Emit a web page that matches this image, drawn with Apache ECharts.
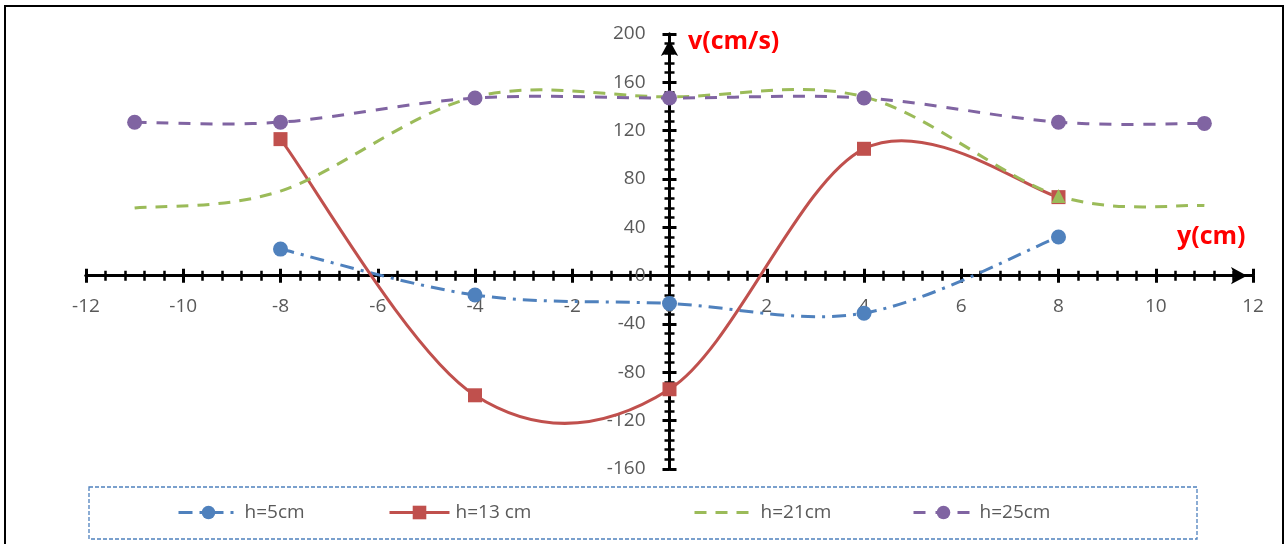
<!DOCTYPE html>
<html><head><meta charset="utf-8">
<script src="https://cdn.jsdelivr.net/npm/echarts@6/dist/echarts.min.js"></script>
<style>html,body{margin:0;padding:0;background:#fff}#c{width:1287px;height:544px}</style>
</head><body><div id="c"></div>
<script>
// Data
const seriesNames = ['h=5cm', 'h=13 cm', 'h=21cm', 'h=25cm'];
const xH5  = [-8, -4, 0, 4, 8];
const vH5  = [22, -16, -23, -31, 32];
const xH13 = [-8, -4, 0, 4, 8];
const vH13 = [113, -99, -94, 105, 65];
const xH21 = [-11, -8, -4, 0, 4, 8, 11];
const vH21 = [56, 70, 148, 148, 148, 66, 58];
const xH25 = [-11, -8, -4, 0, 4, 8, 11];
const vH25 = [127, 127, 147, 147, 147, 127, 126];
const xTicks = { min: -12, max: 12, interval: 2 };
const yTicks = { min: -160, max: 200, interval: 40 };

const colors = ['#4F81BD', '#C0504D', '#9BBB59', '#8064A2'];
const dashes = [[14, 7, 3, 7], 'solid', [12, 9], [12, 10]];
const symbols = ['circle', 'rect', 'none', 'circle'];
const sets = [[xH5, vH5], [xH13, vH13], [xH21, vH21], [xH25, vH25]];

function pairs(xs, ys) { return xs.map((x, i) => [x, ys[i]]); }

function smoothRender(k) {
  return function (params, api) {
    if (params.dataIndex !== 0) return null;
    const [xs, ys] = sets[k];
    const P = xs.map((x, i) => api.coord([x, ys[i]]));
    const n = P.length;
    let d = 'M' + P[0][0] + ' ' + P[0][1];
    for (let i = 0; i < n - 1; i++) {
      const p0 = P[Math.max(i - 1, 0)], p1 = P[i], p2 = P[i + 1], p3 = P[Math.min(i + 2, n - 1)];
      const c1 = [p1[0] + (p2[0] - p0[0]) / 6, p1[1] + (p2[1] - p0[1]) / 6];
      const c2 = [p2[0] - (p3[0] - p1[0]) / 6, p2[1] - (p3[1] - p1[1]) / 6];
      d += ' C' + c1[0] + ' ' + c1[1] + ' ' + c2[0] + ' ' + c2[1] + ' ' + p2[0] + ' ' + p2[1];
    }
    return {
      type: 'path',
      shape: { pathData: d },
      style: { fill: 'none', stroke: colors[k], lineWidth: 3,
               lineDash: dashes[k] === 'solid' ? null : dashes[k], lineCap: 'butt' }
    };
  };
}

const series = [];
sets.forEach(([xs, ys], k) => {
  series.push({
    type: 'custom', coordinateSystem: 'cartesian2d', xAxisIndex: 0, yAxisIndex: 0,
    silent: true, renderItem: smoothRender(k), data: [[xs[0], ys[0]]], z: 2
  });
  let data = pairs(xs, ys);
  if (k === 2) {
    data = data.map(p => p[0] === 8 ? { value: p, symbol: 'triangle', symbolSize: 14 } : { value: p });
  }
  series.push({
    name: seriesNames[k], type: 'line', xAxisIndex: 0, yAxisIndex: 0,
    data: data, symbol: symbols[k], symbolSize: k === 1 ? 14 : 15, showSymbol: true,
    itemStyle: { color: colors[k] },
    lineStyle: { color: colors[k], width: 3, type: dashes[k], opacity: 0 },
    z: 2
  });
});

const tickStyle = { show: true, length: 7, lineStyle: { color: '#000', width: 3 } };
const minorStyle = { show: true, splitNumber: 5, length: 5, lineStyle: { color: '#000', width: 2.5 } };
const labelStyle = { color: '#595959', fontSize: 19, fontFamily: 'Open Sans' };
const lineBase = { onZero: false, lineStyle: { color: '#000', width: 3 } };
const arrow = { symbol: ['none', 'arrow'], symbolSize: [13, 16], symbolOffset: [0, -6] };

function xAxisDef(inside, offset) {
  return {
    type: 'value', min: xTicks.min, max: xTicks.max, interval: xTicks.interval,
    position: 'bottom', offset: offset, splitLine: { show: false },
    minorTick: minorStyle,
    axisTick: Object.assign({}, tickStyle, { inside: inside }),
    axisLine: Object.assign({}, lineBase, inside ? {} : arrow),
    axisLabel: inside ? { show: false } : Object.assign({ margin: 21 }, labelStyle)
  };
}
function yAxisDef(inside, offset) {
  return {
    type: 'value', min: yTicks.min, max: yTicks.max, interval: yTicks.interval,
    position: 'left', offset: offset, splitLine: { show: false },
    minorTick: minorStyle,
    axisTick: Object.assign({}, tickStyle, { inside: inside }),
    axisLine: Object.assign({}, lineBase, inside ? {} : arrow),
    axisLabel: inside ? { show: false } : Object.assign({ margin: 24 }, labelStyle)
  };
}

const legends = seriesNames.map((nm, k) => ({
  data: [k === 2 ? { name: nm, itemStyle: { opacity: 0 } } : nm],
  left: [177, 388, 693, 912][k], top: 503, orient: 'horizontal', padding: 0,
  itemWidth: 60, itemHeight: 17, itemGap: 0,
  textStyle: { color: '#595959', fontSize: 19, fontFamily: 'Open Sans', padding: [0, 0, 0, 1] },
  lineStyle: { width: 3, opacity: 1 },
  selectedMode: false
}));

const gridDef = { left: 86, right: 34, top: 34, bottom: 75, containLabel: false };

const option = {
  animation: false,
  backgroundColor: '#fff',
  grid: gridDef,
  xAxis: [xAxisDef(false, 0), xAxisDef(true, 0)],
  yAxis: [yAxisDef(false, 0), yAxisDef(true, 0)],
  legend: legends,
  graphic: [
    { type: 'rect', shape: { x: 5, y: 6, width: 1278, height: 600 }, silent: true, z: -1,
      style: { fill: 'none', stroke: '#000', lineWidth: 2 } },
    { type: 'rect', shape: { x: 89, y: 487, width: 1108, height: 52 }, silent: true, z: -1,
      style: { fill: 'none', stroke: '#4F81BD', lineWidth: 1.3, lineDash: [4, 2] } },
    { type: 'text', left: 688, top: 29, silent: true,
      style: { text: 'v(cm/s)', fill: '#FF0000', font: 'bold 25px "Open Sans"' } },
    { type: 'text', left: 1177, top: 224, silent: true,
      style: { text: 'y(cm)', fill: '#FF0000', font: 'bold 25px "Open Sans"' } }
  ],
  series: series
};

const chart = echarts.init(document.getElementById('c'), null, { renderer: 'canvas' });
chart.setOption(option);
// Move the axes so they cross at the origin (through the library's own scale)
const origin = chart.convertToPixel({ gridIndex: 0 }, [0, 0]);
const gridRect = chart.getModel().getComponent('grid', 0).coordinateSystem.getRect();
const xOff = -((gridRect.y + gridRect.height) - origin[1]);
const yOff = -(origin[0] - gridRect.x);
chart.setOption({
  xAxis: [xAxisDef(false, xOff), xAxisDef(true, xOff)],
  yAxis: [yAxisDef(false, yOff), yAxisDef(true, yOff)]
});
</script>
</body></html>
